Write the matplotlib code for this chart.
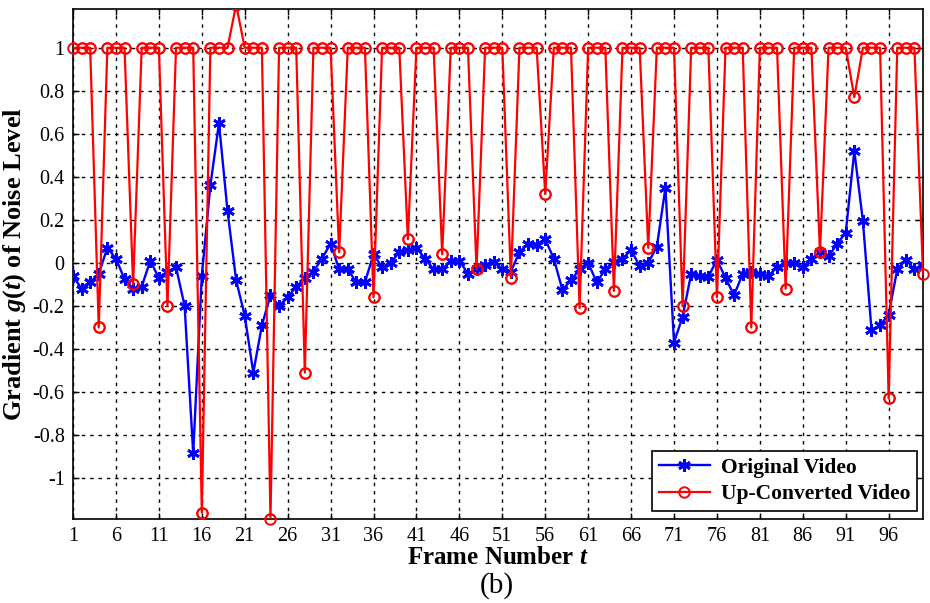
import numpy as np
import matplotlib
matplotlib.use("Agg")
import matplotlib.pyplot as plt

plt.rcParams["font.family"] = ["Liberation Serif", "DejaVu Serif"]
plt.rcParams["mathtext.fontset"] = "custom"
plt.rcParams["mathtext.it"] = "Liberation Serif:italic:bold"
plt.rcParams["mathtext.rm"] = "Liberation Serif:bold"
plt.rcParams["axes.unicode_minus"] = False

frames = list(range(1, 101))

original_video = [
    -0.06, -0.12, -0.09, -0.05, 0.07, 0.02, -0.075, -0.12, -0.11, 0.01,
    -0.07, -0.04, -0.02, -0.20, -0.885, -0.06, 0.36, 0.65, 0.24, -0.08,
    -0.245, -0.51, -0.29, -0.15, -0.20, -0.16, -0.11, -0.07, -0.04, 0.02,
    0.09, -0.03, -0.03, -0.09, -0.09, 0.04, -0.02, 0.00, 0.05, 0.06,
    0.07, 0.02, -0.03, -0.03, 0.01, 0.01, -0.05, -0.03, -0.01, 0.005,
    -0.03, -0.04, 0.05, 0.09, 0.085, 0.11, 0.02, -0.125, -0.08, -0.03,
    0.00, -0.09, -0.03, 0.005, 0.02, 0.06, -0.015, 0.00, 0.075, 0.35,
    -0.37, -0.25, -0.05, -0.06, -0.065, 0.015, -0.07, -0.15, -0.05, -0.04,
    -0.05, -0.06, -0.02, 0.00, 0.00, -0.02, 0.02, 0.05, 0.03, 0.09,
    0.14, 0.52, 0.195, -0.31, -0.29, -0.24, -0.03, 0.015, -0.03, -0.01,
]

up_converted_video = [
    1, 1, 1, -0.30, 1, 1, 1, -0.10, 1, 1,
    1, -0.20, 1, 1, 1, -1.16, 1, 1, 1, 1.20,
    1, 1, 1, -1.19, 1, 1, 1, -0.51, 1, 1,
    1, 0.05, 1, 1, 1, -0.16, 1, 1, 1, 0.11,
    1, 1, 1, 0.04, 1, 1, 1, -0.03, 1, 1,
    1, -0.07, 1, 1, 1, 0.32, 1, 1, 1, -0.21,
    1, 1, 1, -0.13, 1, 1, 1, 0.07, 1, 1,
    1, -0.20, 1, 1, 1, -0.16, 1, 1, 1, -0.30,
    1, 1, 1, -0.12, 1, 1, 1, 0.05, 1, 1,
    1, 0.77, 1, 1, 1, -0.63, 1, 1, 1, -0.05,
]

x_ticks = list(range(1, 97, 5))
y_ticks = [1, 0.8, 0.6, 0.4, 0.2, 0, -0.2, -0.4, -0.6, -0.8, -1]
y_tick_labels = ["1", "0.8", "0.6", "0.4", "0.2", "0", "-0.2", "-0.4", "-0.6", "-0.8", "-1"]

fig = plt.figure(figsize=(9.3, 6.03), dpi=100)
ax = fig.add_axes([73 / 930, 1 - 519 / 603, 850 / 930, 510 / 603])

ymin, ymax = -1.19, 1.18
asterisk = (6, 2, 0)

ax.plot(frames, original_video, color="blue", lw=1.7, marker=asterisk,
        markersize=9, markeredgewidth=2.0, label="Original Video", zorder=3)
ax.plot(frames, up_converted_video, color="red", lw=1.6, marker="o",
        markersize=7.5, markerfacecolor="none", markeredgewidth=1.4,
        label="Up-Converted Video", zorder=4)

# markers sitting on the frame edge stay whole; out-of-range points stay hidden
uc = np.array(up_converted_video, dtype=float)
fx = np.array(frames)
inside = (uc >= ymin - 1e-9) & (uc <= ymax)
ax.plot(fx[inside], uc[inside], ls="none", marker="o", markersize=7.5,
        markerfacecolor="none", markeredgecolor="red", markeredgewidth=1.4,
        clip_on=False, zorder=4)

ax.set_xlim(1, 100)
ax.set_ylim(ymin, ymax)
ax.set_xticks(x_ticks)
ax.set_yticks(y_ticks)
ax.set_yticklabels(y_tick_labels)

ax.grid(True, color="black", linestyle=(0, (2.5, 3.5)), linewidth=1.0)
ax.set_axisbelow(True)
ax.tick_params(direction="in", length=4, width=1, top=True, right=True,
               labelsize=14.5, pad=6, colors="black")
for sp in ax.spines.values():
    sp.set_linewidth(1.2)
    sp.set_color("black")

ax.set_xlabel("Frame Number $t$", fontsize=18, fontweight="bold", labelpad=0)
ax.set_ylabel("Gradient $g(t)$ of Noise Level", fontsize=19,
              fontweight="bold", labelpad=3)

leg = ax.legend(loc="lower right", bbox_to_anchor=(0.993, 0.016),
                prop={"size": 15.5, "weight": "bold"}, frameon=True,
                fancybox=False, edgecolor="black", framealpha=1,
                handlelength=2.4, borderpad=0.3, labelspacing=0.3,
                handletextpad=0.5, borderaxespad=0)
leg.get_frame().set_linewidth(1.2)

fig.text(497 / 930, 1 - 586 / 603, "(b)", fontsize=21, ha="center", va="center")

fig.savefig("out.png", dpi=100)
